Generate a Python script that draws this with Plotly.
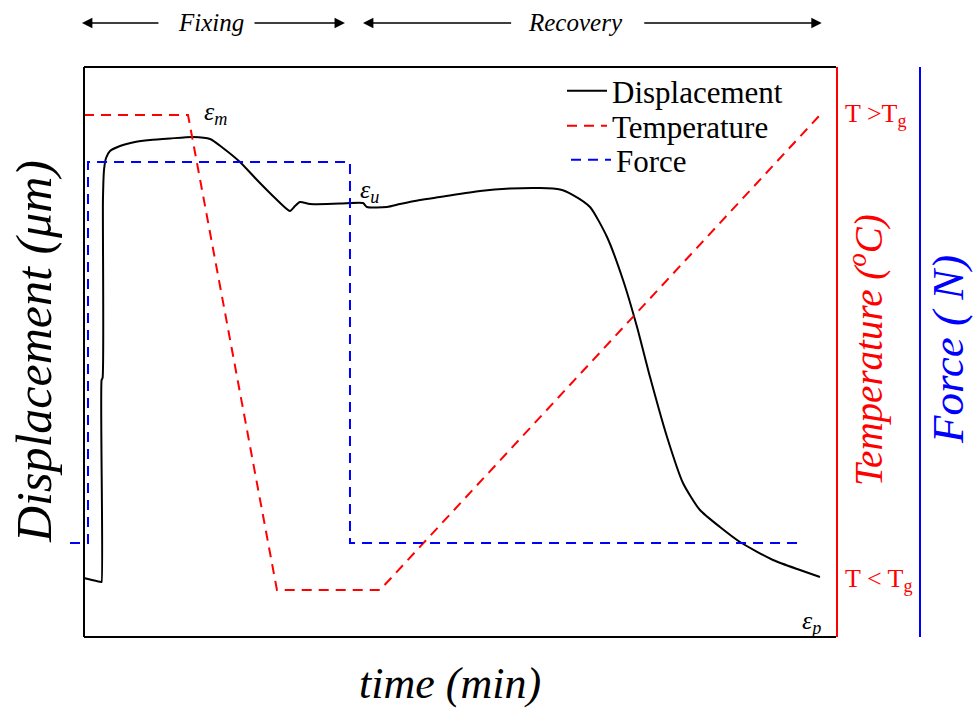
import plotly.graph_objects as go

# ---- data (arbitrary normalised units; time axis 0..100) ----
disp_t = [0.0, 1.06, 2.26, 2.34, 2.34, 2.47, 2.52, 2.66, 2.93, 3.46, 4.79, 6.78, 8.78, 11.44,
          14.49, 16.76, 18.48, 20.74, 23.01, 25.40, 27.39, 28.06, 28.72, 30.05, 34.04, 37.10,
          37.63, 40.29, 42.02, 44.68, 47.34, 52.66, 56.65, 60.64, 63.30, 65.03, 67.29, 69.55,
          71.68, 73.54, 75.27, 77.53, 79.65, 81.91, 84.57, 87.23, 91.62, 95.21, 97.87]
disp_v = [10.35, 10.0, 9.65, 9.65, 45.09, 45.44, 76.67, 81.93, 84.04, 85.26, 86.14, 86.84, 87.19, 87.46,
          87.72, 87.37, 85.79, 83.33, 80.18, 77.02, 74.74, 75.61, 76.32, 75.96, 76.05, 76.14,
          75.44, 75.44, 75.96, 76.67, 77.19, 78.25, 78.68, 78.77, 78.51, 77.54, 75.44, 70.18,
          62.63, 54.39, 45.61, 35.09, 27.02, 22.28, 19.30, 16.67, 13.51, 11.75, 10.53]

temp_t = [0.0, 13.83, 25.66, 39.36, 97.87]
temp_v = [91.58, 91.58, 8.25, 8.25, 91.58]

force_t = [-1.86, 0.53, 0.53, 35.37, 35.37, 95.21]
force_v = [16.49, 16.49, 83.33, 83.33, 16.49, 16.49]

T_HIGH = 91.58
T_LOW = 10.0

SERIF = "Liberation Serif, Times New Roman, serif"

L, R, T, B = 70, 40, 67, 71
W, H = 977, 708
pw = W - L - R
ph = H - T - B

def px(xpix):
    return (xpix - L) / pw

def py(ypix):
    return (H - B - ypix) / ph

fig = go.Figure()
fig.add_trace(go.Scatter(x=disp_t, y=disp_v, mode="lines", name="Displacement",
                         line=dict(color="black", width=2, shape="spline", smoothing=0.6),
                         yaxis="y", legend="legend"))
fig.add_trace(go.Scatter(x=temp_t, y=temp_v, mode="lines", name="Temperature",
                         line=dict(color="#ff0000", width=2, dash="10px,7px"), yaxis="y2",
                         legend="legend2"))
fig.add_trace(go.Scatter(x=force_t, y=force_v, mode="lines", name="Force",
                         line=dict(color="#0000ff", width=2, dash="10px,7px"), yaxis="y3",
                         legend="legend3"))

xd_end = px(836)

def leg(ytop, xl=562):
    return dict(x=px(xl), y=py(ytop), xanchor="left", yanchor="top", bgcolor="rgba(0,0,0,0)",
                font=dict(family=SERIF, size=31, color="black"), itemwidth=40)

fig.update_layout(
    width=W, height=H,
    margin=dict(l=L, r=R, t=T, b=B, pad=0),
    paper_bgcolor="white", plot_bgcolor="white",
    font=dict(family=SERIF, color="black"),
    xaxis=dict(domain=[0, xd_end], range=[-1.862, 100], showgrid=False, zeroline=False,
               showline=False, showticklabels=False, ticks=""),
    yaxis=dict(range=[0, 100], showgrid=False, zeroline=False, showline=False,
               showticklabels=False, ticks=""),
    yaxis2=dict(range=[0, 100], overlaying="y", side="right", anchor="x", showgrid=False,
                zeroline=False, showline=True, linecolor="#ff0000", linewidth=2,
                showticklabels=False, ticks=""),
    yaxis3=dict(range=[0, 100], overlaying="y", side="right", anchor="free", position=px(920),
                showgrid=False, zeroline=False, showline=True, linecolor="#0000ff", linewidth=2,
                showticklabels=False, ticks=""),
    legend=leg(64),
    legend2=leg(99),
    legend3=leg(133, 566),
    showlegend=True,
)

# frame (left, top, bottom) in axis coordinates
for s in [dict(x0=0, x1=0, y0=0, y1=1), dict(x0=0, x1=100, y0=1, y1=1),
          dict(x0=0, x1=100, y0=0, y1=0)]:
    fig.add_shape(type="line", xref="x", yref="paper", line=dict(color="black", width=2), **s)

ann = []
# axis titles
ann.append(dict(text="<i>Displacement (μm)</i>", x=px(34), y=py(352), xref="paper", yref="paper",
                textangle=-90, showarrow=False, font=dict(size=50, family=SERIF, color="black"),
                xanchor="center", yanchor="middle"))
ann.append(dict(text="<i>time (min)</i>", x=px(450), y=py(683), xref="paper", yref="paper",
                showarrow=False, font=dict(size=44, family=SERIF, color="black"),
                xanchor="center", yanchor="middle"))
ann.append(dict(text="<i>Temperature (<sup>o</sup>C)</i>", x=px(866), y=py(350), xref="paper",
                yref="paper", textangle=-90, showarrow=False,
                font=dict(size=39, family=SERIF, color="#ff0000"),
                xanchor="center", yanchor="middle"))
ann.append(dict(text="<i>Force ( N)</i>", x=px(948), y=py(350), xref="paper", yref="paper",
                textangle=-90, showarrow=False, font=dict(size=45, family=SERIF, color="#0000ff"),
                xanchor="center", yanchor="middle"))
# temperature level labels
ann.append(dict(text="T &gt;T<sub>g</sub>", x=px(843), y=T_HIGH, xref="paper", yref="y2",
                showarrow=False, font=dict(size=26, family=SERIF, color="#ff0000"),
                xanchor="left", yanchor="middle"))
ann.append(dict(text="T &lt; T<sub>g</sub>", x=px(843), y=T_LOW, xref="paper", yref="y2",
                showarrow=False, font=dict(size=26, family=SERIF, color="#ff0000"),
                xanchor="left", yanchor="middle"))
# strain labels
ann.append(dict(text="<i>ε<sub>m</sub></i>", x=17.55, y=92.0, xref="x", yref="y", showarrow=False,
                font=dict(size=26, family=SERIF, color="black")))
ann.append(dict(text="<i>ε<sub>u</sub></i>", x=37.9, y=78.3, xref="x", yref="y", showarrow=False,
                font=dict(size=26, family=SERIF, color="black")))
ann.append(dict(text="<i>ε<sub>p</sub></i>", x=96.8, y=2.6, xref="x", yref="y", showarrow=False,
                font=dict(size=26, family=SERIF, color="black")))
# phase labels with arrows
ya = py(23)
ann.append(dict(text="<i>Fixing</i>", x=16.9, y=ya, xref="x", yref="paper", showarrow=False,
                yanchor="middle", font=dict(size=25, family=SERIF, color="black")))
ann.append(dict(text="<i>Recovery</i>", x=65.4, y=ya, xref="x", yref="paper", showarrow=False,
                yanchor="middle", font=dict(size=25, family=SERIF, color="black")))
for head, tail in [(-0.27, 10.1), (34.7, 22.47), (37.1, 57.0), (98.1, 74.3)]:
    ann.append(dict(text="", x=head, y=ya, xref="x", yref="paper", ax=tail, ay=0,
                    axref="x", ayref="pixel", showarrow=True, arrowhead=2, arrowsize=1.6,
                    arrowwidth=1.3, arrowcolor="black"))

fig.update_layout(annotations=ann)
fig.write_html("out.html")
